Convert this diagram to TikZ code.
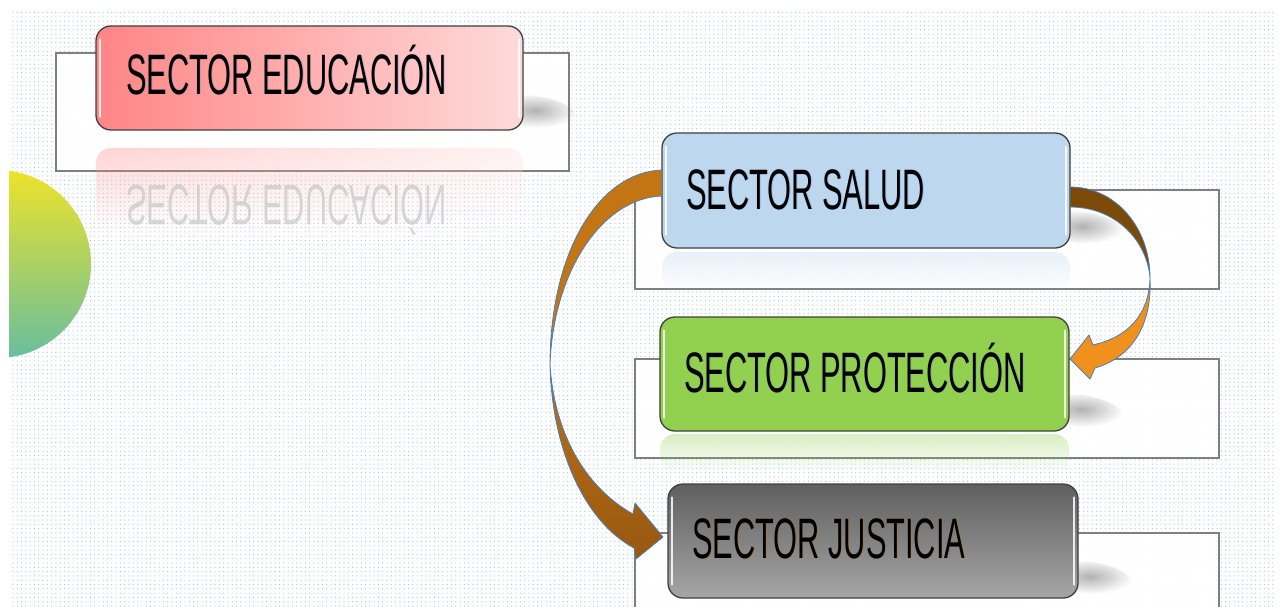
\documentclass[tikz,border=0pt]{standalone}
\usepackage{fontspec}
\setmainfont{Liberation Sans}
\usetikzlibrary{patterns.meta,fadings}
\definecolor{dotc}{HTML}{9DC3E6}
\definecolor{edul}{HTML}{FF8585}
\definecolor{edur}{HTML}{FFDADA}
\definecolor{salc}{HTML}{BDD7EE}
\definecolor{proc}{HTML}{92D050}
\definecolor{jtop}{HTML}{5F5F5F}
\definecolor{jbot}{HTML}{A6A6A6}
\definecolor{circtop}{HTML}{EDE32A}
\definecolor{circbot}{HTML}{68BE9E}
\definecolor{rborder}{HTML}{7F7F7F}
\definecolor{boxborder}{HTML}{404040}
\definecolor{arrdark}{HTML}{7C4A08}
\definecolor{arrorange}{HTML}{F1911D}
\definecolor{arrlt}{HTML}{C47513}
\definecolor{arrbr1}{HTML}{BC7215}
\definecolor{arrbr2}{HTML}{985810}
\definecolor{arredge}{HTML}{4A7EBB}
\definecolor{glow}{HTML}{5B8FD0}
\tikzfading[name=reflfade, top color=transparent!65, middle color=transparent!90, bottom color=transparent!100]
\tikzfading[name=blobfade, inner color=transparent!45, outer color=transparent!100]
\newcommand\cond[1]{\scalebox{0.54}[1]{#1}}
\newcommand\condflip[1]{\scalebox{0.54}[-1]{#1}}
\begin{document}
\begin{tikzpicture}[x=1pt,y=-1pt,
  backrect/.style={draw=rborder, line width=1.6pt, fill=white, fill opacity=.92},
  box/.style={draw=boxborder, line width=1.3pt, rounded corners=15pt, inner sep=0pt},
  lbl/.style={anchor=base west, inner sep=0pt, font=\fontsize{57}{57}\selectfont},
  hl/.style={white, line width=2pt, opacity=.85, line cap=round},
  shadowblob/.style={black!55, path fading=blobfade},
  refl/.style={rounded corners=15pt, path fading=reflfade},
  arr/.style={draw=arredge, line width=.8pt, line join=round}]
\useasboundingbox (0,0) rectangle (1283,606);
% dotted background
\fill[pattern={Dots[distance=4.3pt, radius=.6pt]}, pattern color=dotc] (10,10) rectangle (1276,606);
% half circle
\begin{scope}
\clip (9,0) rectangle (140,606);
\shade[top color=circtop, bottom color=circbot] (-3,264) circle[radius=94];
\end{scope}
% back rectangles
\path[backrect] (56,53) rectangle (569,171);
\path[backrect] (635,190) rectangle (1219,289);
\path[backrect] (635,359) rectangle (1219,458);
\path[backrect] (635,533) rectangle (1219,625);
% reflections
\path[refl, left color=edul, right color=edur] (96,148) rectangle (523,236);
\path[refl, fill=salc] (662,252) rectangle (1070,292);
\path[refl, fill=proc] (660,434) rectangle (1069,472);
\node[lbl, text=black!22, text opacity=.7] (edurefl) at (126,185) {\condflip{SECTOR EDUCACIÓN}};
% shadows of boxes
\fill[shadowblob, rotate around={-8:(535,112)}] (535,112) ellipse [x radius=42pt, y radius=16pt];
\fill[shadowblob, rotate around={-8:(1082,228)}] (1082,228) ellipse [x radius=42pt, y radius=16pt];
\fill[shadowblob, rotate around={-8:(1081,411)}] (1081,411) ellipse [x radius=42pt, y radius=16pt];
\fill[shadowblob, rotate around={-8:(1090,578)}] (1090,578) ellipse [x radius=42pt, y radius=16pt];
% boxes
\node[box, left color=edul, right color=edur, minimum width=427pt, minimum height=104pt] (edu) at (309.5,78) {};
\node[box, fill=salc, minimum width=408pt, minimum height=115pt] (salud) at (866,190.5) {};
\node[box, fill=proc, minimum width=409pt, minimum height=114pt] (prot) at (864.5,374) {};
\node[box, top color=jtop, bottom color=jbot, minimum width=410pt, minimum height=114pt] (just) at (873,541) {};
% highlights
\foreach \b in {edu,salud,prot,just}{
  \draw[hl] ([xshift=5pt,yshift=-14pt]\b.north west) -- ([xshift=5pt,yshift=14pt]\b.south west);
  \draw[hl] ([xshift=-5pt,yshift=-14pt]\b.north east) -- ([xshift=-5pt,yshift=14pt]\b.south east);
}
% labels
\node[lbl, text=glow, text opacity=.35] (edug) at (126.8,94.5) {\cond{SECTOR EDUCACIÓN}};
\node[lbl] (edut) at (126,94) {\cond{SECTOR EDUCACIÓN}};
\node[lbl, text=glow, text opacity=.35] (salg) at (686.8,209.5) {\cond{SECTOR SALUD}};
\node[lbl] (salt) at (686,209) {\cond{SECTOR SALUD}};
\node[lbl, text=glow, text opacity=.35] (prog) at (684.8,392.5) {\cond{SECTOR PROTECCIÓN}};
\node[lbl] (prott) at (684,392) {\cond{SECTOR PROTECCIÓN}};
\node[lbl, text=arrbr1, text opacity=.45] (jusg) at (692.8,558.5) {\cond{SECTOR JUSTICIA}};
\node[lbl] (justt) at (692,558) {\cond{SECTOR JUSTICIA}};
% right arrow: salud -> proteccion
\coordinate (r1) at (1070,187);
\coordinate (r2) at (1070,207);
\coordinate (rt) at (1150,278);
\coordinate (rtip) at (1070,359);
\path[arr, fill=arrdark] (r1) .. controls (1116,187) and (1150,228) .. (rt)
   .. controls (1147,240) and (1115,207) .. (r2) -- cycle;
\path[arr, fill=arrorange] (rt) .. controls (1149,315) and (1128,337) .. (1093,345)
   -- (1089,335) -- (rtip) -- (1090,379) -- (1095,368)
   .. controls (1136,356) and (1152,320) .. (rt) -- cycle;
% left arrow: salud -> justicia
\coordinate (l1) at (662,170);
\coordinate (l2) at (662,196);
\coordinate (lt) at (550,365);
\coordinate (ltip) at (663,537);
\path[arr, fill=arrlt] (l1) .. controls (600,172) and (550,250) .. (lt)
   .. controls (553,272) and (602,198) .. (l2) -- cycle;
\path[arr, top color=arrbr1, bottom color=arrbr2] (lt) .. controls (555,440) and (590,490) .. (633,514)
   -- (635,503) -- (ltip) -- (636,559) -- (634,548)
   .. controls (585,522) and (552,450) .. (lt) -- cycle;
\end{tikzpicture}
\end{document}
